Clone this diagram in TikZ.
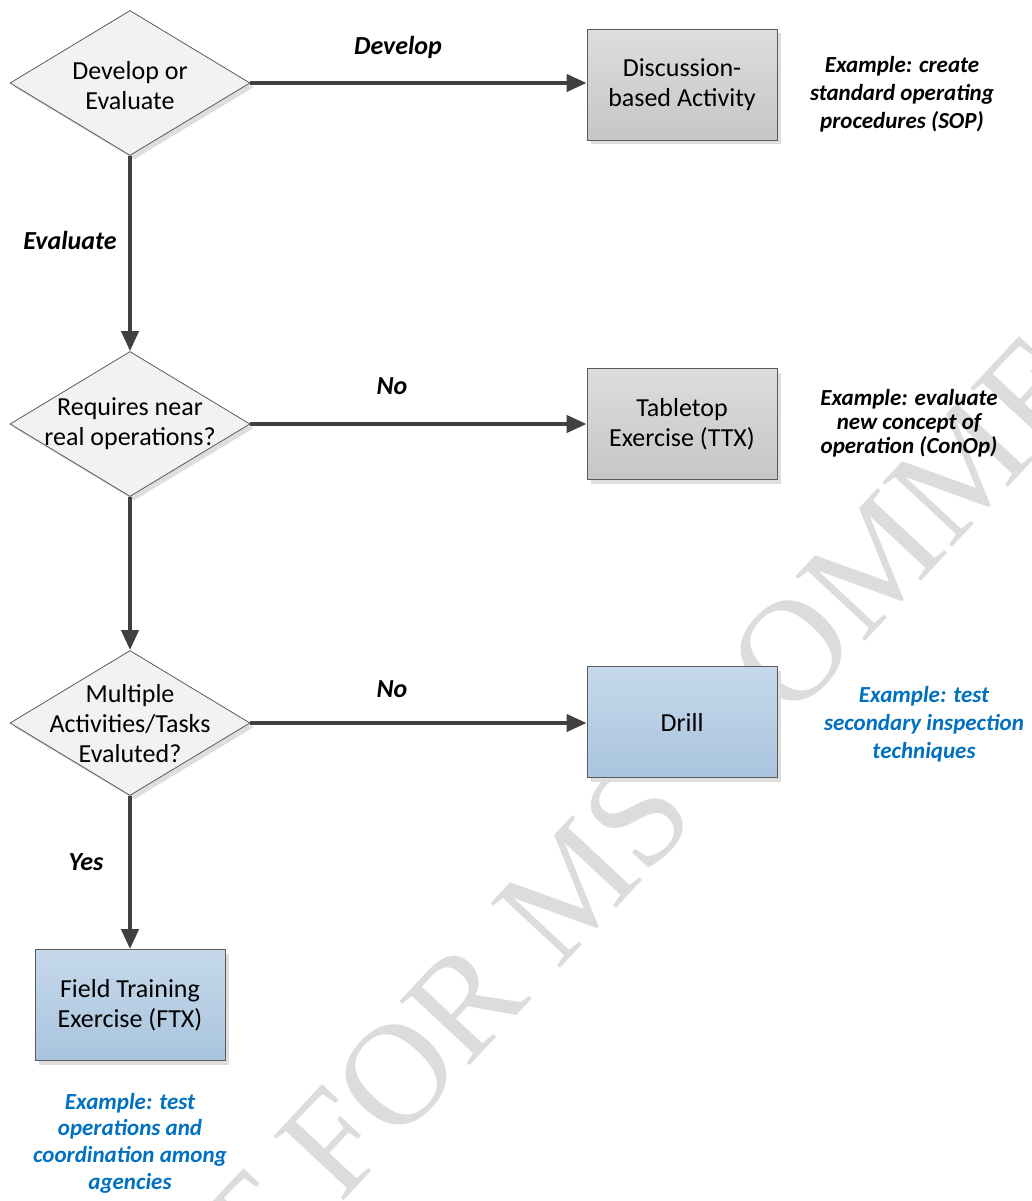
\documentclass[tikz,border=0pt]{standalone}
\usepackage{fontspec}
\setmainfont{Carlito}
\newfontfamily\wmfont{Liberation Serif}
\usetikzlibrary{shapes.geometric,arrows.meta,shadows}
\definecolor{linegray}{HTML}{404040}
\definecolor{edgegray}{HTML}{5A5A5A}
\definecolor{dfill}{HTML}{F2F2F2}
\definecolor{graytop}{HTML}{DDDDDD}
\definecolor{graybot}{HTML}{C6C6C6}
\definecolor{bluetop}{HTML}{C6D9EB}
\definecolor{bluebot}{HTML}{A9C4DE}
\definecolor{exblue}{HTML}{0070C0}
\definecolor{wmgray}{HTML}{DCDCDC}
\begin{document}
\begin{tikzpicture}[x=1pt,y=-1pt,
  shadowed/.style={drop shadow={shadow xshift=4pt,shadow yshift=-4pt,fill=black!13,opacity=1}},
  decision/.style={diamond,draw=edgegray,line width=0.8pt,fill=dfill,minimum width=240pt,minimum height=145pt,inner sep=0pt,shadowed},
  dtext/.style={align=center,inner sep=0pt,font=\fontsize{26}{30}\selectfont},
  box/.style={rectangle,draw=edgegray,line width=0.8pt,minimum width=190pt,minimum height=111pt,inner sep=0pt,align=center,font=\fontsize{26}{30}\selectfont,shadowed},
  graybox/.style={box,top color=graytop,bottom color=graybot},
  bluebox/.style={box,top color=bluetop,bottom color=bluebot},
  conn/.style={line width=4pt,draw=linegray,-{Triangle[length=20pt,width=17pt]}},
  lbl/.style={inner sep=0pt,font=\fontsize{26}{30}\selectfont\bfseries\itshape},
  example/.style={inner sep=0pt,align=center,text=black},
  exfont/.style={font=\fontsize{23}{#1}\selectfont\bfseries\itshape},
  wm/.style={inner sep=0pt,text=wmgray,font=\fontsize{145}{145}\selectfont\wmfont}
]
\useasboundingbox (0,0) rectangle (1031,1201);
\begin{scope}
\clip (0,0) rectangle (1031,1201);
\node[wm,rotate=47,anchor=base west] (wmark) at (-9,1579) {DRAFT FOR MS COMMENT};
\end{scope}

% decisions
\node[decision] (d1) at (130,83) {};
\node[decision] (d2) at (130,424) {};
\node[decision] (d3) at (130,723) {};
\node[dtext] (d1t) at (130,86) {Develop or\\Evaluate};
\node[dtext] (d2t) at (130,424) {Requires near\\real operations?};
\node[dtext] (d3t) at (130,724) {Multiple\\Activities/Tasks\\Evaluted?};

% boxes
\node[graybox] (b1) at (682,85) {Discussion-\\based Activity};
\node[graybox] (b2) at (682,424) {Tabletop\\Exercise (TTX)};
\node[bluebox] (b3) at (682,722) {Drill};
\node[bluebox] (b4) at (130,1005) {Field Training\\Exercise (FTX)};

% connectors
\draw[conn] (d1.east) -- (d1.east -| b1.west);
\draw[conn] (d2.east) -- (d2.east -| b2.west);
\draw[conn] (d3.east) -- (d3.east -| b3.west);
\draw[conn] (d1.south) -- (d2.north);
\draw[conn] (d2.south) -- (d3.north);
\draw[conn] (d3.south) -- (b4.north);

% labels
\node[lbl] (lDev) at (398,47) {Develop};
\node[lbl] (lEval) at (70,240) {Evaluate};
\node[lbl] (lNo1) at (392,386) {No};
\node[lbl] (lNo2) at (392,689) {No};
\node[lbl] (lYes) at (86,862) {Yes};

% examples
\node[example,exfont=28] (e1) at (902,94) {Example: create\\standard operating\\procedures (SOP)};
\node[example,exfont=24] (e2) at (909,423) {Example: evaluate\\new concept of\\operation (ConOp)};
\node[example,exfont=28,text=exblue] (e3) at (924,724) {Example: test\\secondary inspection\\techniques};
\node[example,exfont=26.7,text=exblue] (e4) at (130,1143) {Example: test\\operations and\\coordination among\\agencies};
\end{tikzpicture}
\end{document}
